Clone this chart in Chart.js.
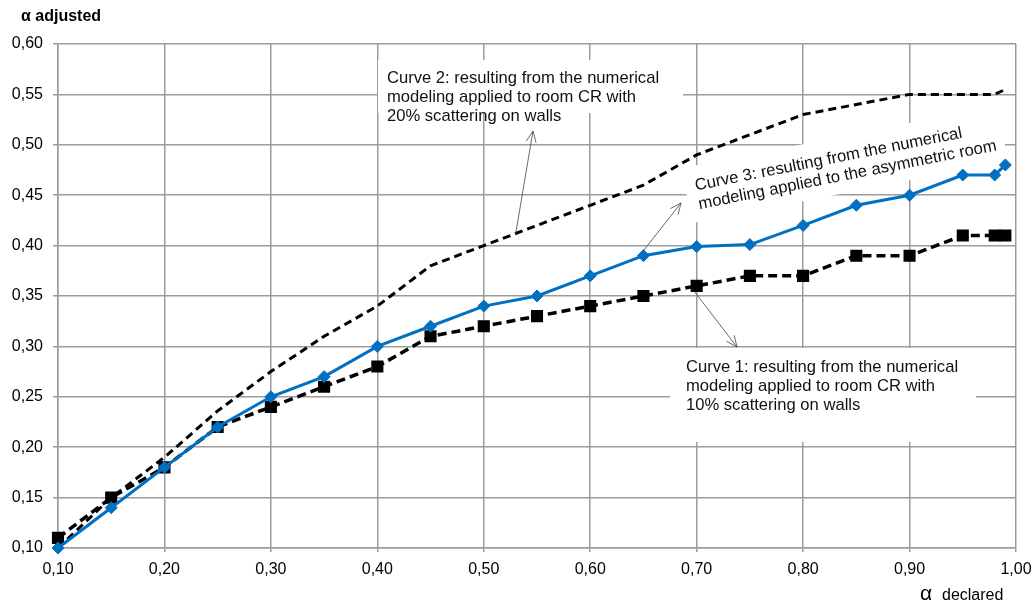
<!DOCTYPE html>
<html>
<head>
<meta charset="utf-8">
<script src="https://cdn.jsdelivr.net/npm/chart.js@4/dist/chart.umd.min.js"></script>
<style>
  html, body { margin: 0; padding: 0; background: #fff; }
  canvas { display: block; }
</style>
</head>
<body>
<canvas id="chart" width="1033" height="606"></canvas>
<script>
const alphaDeclared = [0.10, 0.15, 0.20, 0.25, 0.30, 0.35, 0.40, 0.45, 0.50, 0.55, 0.60, 0.65, 0.70, 0.75, 0.80, 0.85, 0.90, 0.95, 0.98, 0.99];
const curve1 = [0.11, 0.15, 0.18, 0.22, 0.24, 0.26, 0.28, 0.31, 0.32, 0.33, 0.34, 0.35, 0.36, 0.37, 0.37, 0.39, 0.39, 0.41, 0.41, 0.41];
const curve2 = [0.10, 0.15, 0.19, 0.236, 0.275, 0.31, 0.34, 0.38, 0.40, 0.42, 0.44, 0.46, 0.49, 0.51, 0.53, 0.54, 0.55, 0.55, 0.55, 0.555];
const curve3 = [0.10, 0.14, 0.18, 0.22, 0.25, 0.27, 0.30, 0.32, 0.34, 0.35, 0.37, 0.39, 0.399, 0.401, 0.42, 0.44, 0.45, 0.47, 0.47, 0.48];

const note1 = ['Curve 1: resulting from the numerical', 'modeling applied to room CR with', '10% scattering on walls'];
const note2 = ['Curve 2: resulting from the numerical', 'modeling applied to room CR with', '20% scattering on walls'];
const note3 = ['Curve 3: resulting from the numerical', 'modeling applied to the asymmetric room'];

const FONT = '"Liberation Sans", Arial, Helvetica, sans-serif';
const GRID = '#9c9c9c';

function pts(ys) {
    return alphaDeclared.map((x, i) => ({ x: x, y: ys[i] }));
}

function comma(v) {
    return Number(v).toFixed(2).replace('.', ',');
}

function arrow(ctx, x1, y1, x2, y2) {
    const a = Math.atan2(y2 - y1, x2 - x1);
    const len = 12, spread = 0.42;
    ctx.beginPath();
    ctx.moveTo(x1, y1);
    ctx.lineTo(x2, y2);
    ctx.moveTo(x2 - len * Math.cos(a - spread), y2 - len * Math.sin(a - spread));
    ctx.lineTo(x2, y2);
    ctx.lineTo(x2 - len * Math.cos(a + spread), y2 - len * Math.sin(a + spread));
    ctx.stroke();
}

function lines(ctx, arr, x, y, step) {
    arr.forEach((t, i) => ctx.fillText(t, x, y + i * step));
}

const notesPlugin = {
    id: 'notes',
    beforeDatasetsDraw(chart) {
        const ctx = chart.ctx;
        ctx.save();
        ctx.fillStyle = '#fff';
        ctx.fillRect(378, 60, 305, 53);
        ctx.fillRect(670, 348, 306, 94);
        ctx.translate(695, 186);
        ctx.rotate(-11.2 * Math.PI / 180);
        ctx.fillRect(-10, -20, 322, 56);
        ctx.restore();
    },
    afterDatasetsDraw(chart) {
        const ctx = chart.ctx;
        const xs = chart.scales.x, ys = chart.scales.y;
        ctx.save();
        ctx.fillStyle = '#111';
        ctx.font = '16.6px ' + FONT;
        ctx.textBaseline = 'middle';
        ctx.textAlign = 'left';
        lines(ctx, note2, 387, 78, 19);
        lines(ctx, note1, 686, 367.5, 19);

        ctx.save();
        ctx.translate(695, 186);
        ctx.rotate(-11.2 * Math.PI / 180);
        lines(ctx, note3, 0, 0, 19);
        ctx.restore();

        ctx.strokeStyle = '#444';
        ctx.lineWidth = 0.8;
        // curve 2 pointer
        const x2 = 0.53;
        const y2 = curve2[9] + (curve2[8] - curve2[9]) * 0.4;
        arrow(ctx, xs.getPixelForValue(x2), ys.getPixelForValue(y2), 533, 131);
        // curve 3 pointer
        arrow(ctx, xs.getPixelForValue(alphaDeclared[11]), ys.getPixelForValue(curve3[11]) - 5, 681, 203);
        // curve 1 pointer
        arrow(ctx, xs.getPixelForValue(alphaDeclared[12]) - 2, ys.getPixelForValue(curve1[12]) + 6, 737, 347);
        ctx.restore();
    },
    afterDraw(chart) {
        const ctx = chart.ctx;
        ctx.save();
        ctx.fillStyle = '#000';
        ctx.textBaseline = 'alphabetic';
        ctx.textAlign = 'left';
        ctx.font = 'bold 16px ' + FONT;
        ctx.fillText('α adjusted', 21, 21);
        ctx.font = '21px ' + FONT;
        ctx.fillText('α', 920, 600);
        ctx.font = '16px ' + FONT;
        ctx.fillText('declared', 942, 600);
        ctx.restore();
    }
};

new Chart(document.getElementById('chart'), {
    type: 'line',
    data: {
        datasets: [
            {
                label: 'Curve 3',
                data: pts(curve3),
                borderColor: '#0070c0',
                backgroundColor: '#0070c0',
                borderWidth: 3,
                pointStyle: 'rectRot',
                pointRadius: 6,
                pointBorderWidth: 1,
                tension: 0,
                clip: false
            },
            {
                label: 'Curve 1',
                data: pts(curve1),
                borderColor: '#000',
                backgroundColor: '#000',
                borderWidth: 3.5,
                borderDash: [9, 5],
                pointStyle: 'rect',
                pointRadius: 7.5,
                pointBorderWidth: 1.5,
                tension: 0,
                clip: false
            },
            {
                label: 'Curve 2',
                data: pts(curve2),
                borderColor: '#000',
                borderWidth: 3,
                borderDash: [8, 5],
                pointRadius: 0,
                tension: 0,
                clip: false
            }
        ]
    },
    options: {
        responsive: false,
        animation: false,
        devicePixelRatio: 1,
        layout: { padding: 0 },
        plugins: {
            legend: { display: false },
            title: { display: false },
            tooltip: { enabled: false }
        },
        scales: {
            x: {
                type: 'linear',
                min: 0.10,
                max: 1.00,
                ticks: {
                    stepSize: 0.1,
                    padding: 8,
                    color: '#000',
                    font: { family: FONT, size: 16 },
                    callback: comma
                },
                grid: { color: GRID, lineWidth: 1.5, tickLength: 4 },
                border: { color: GRID, width: 1.5 },
                afterFit(s) {
                    s.height = 58;
                    s.paddingLeft = 0;
                    s.paddingRight = 17;
                }
            },
            y: {
                min: 0.10,
                max: 0.60,
                ticks: {
                    stepSize: 0.05,
                    padding: 10,
                    color: '#000',
                    font: { family: FONT, size: 16 },
                    callback: comma
                },
                grid: { color: GRID, lineWidth: 1.5, tickLength: 5 },
                border: { color: GRID, width: 1.5 },
                afterFit(s) {
                    s.width = 58;
                    s.paddingTop = 44;
                    s.paddingBottom = 0;
                }
            }
        }
    },
    plugins: [notesPlugin]
});
</script>
</body>
</html>
